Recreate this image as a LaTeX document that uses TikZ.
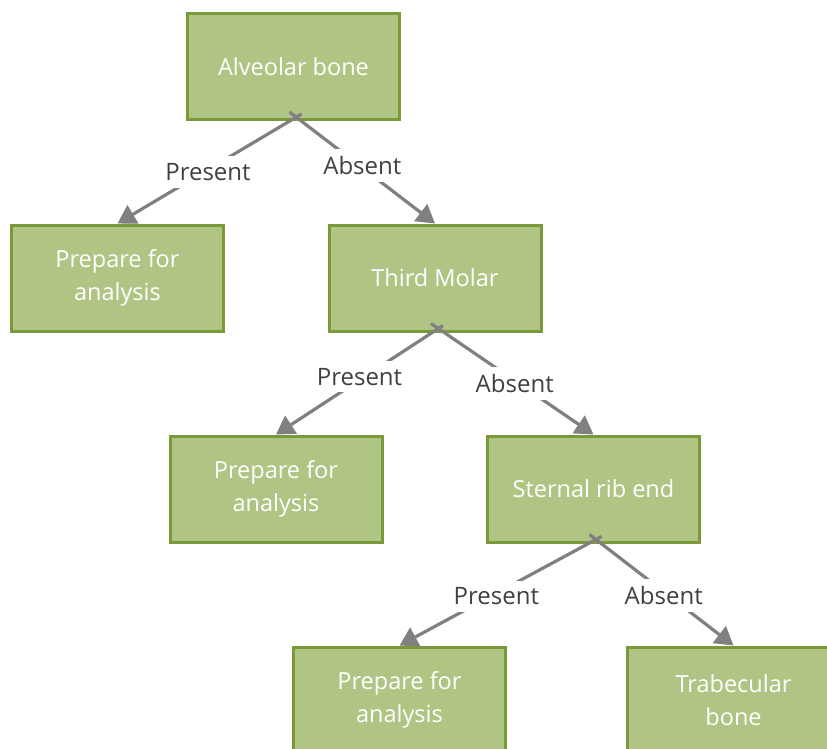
\documentclass[tikz,border=0pt]{standalone}
\usepackage{fontspec}
\setmainfont{Open Sans}
\usetikzlibrary{arrows.meta}
\definecolor{boxfill}{RGB}{176,197,132}
\definecolor{boxline}{RGB}{122,154,58}
\definecolor{edgegray}{RGB}{128,128,128}
\definecolor{lblgray}{RGB}{64,64,64}
\tikzset{
  box/.style={draw=boxline, line width=3pt, fill=boxfill, minimum width=212pt, minimum height=106pt,
    text=white, align=center, font=\fontsize{23.5}{33}\selectfont, inner sep=0pt},
  arr/.style={draw=edgegray, line width=3.2pt, -{Triangle[length=18pt,width=21pt]}},
  lbl/.style={fill=white, text=lblgray, font=\fontsize{24}{28}\selectfont, inner xsep=4pt, inner ysep=7pt}
}
\begin{document}
\begin{tikzpicture}[x=1pt,y=-1pt]
\useasboundingbox (0,0) rectangle (827,748);
\clip (0,0) rectangle (827,748);
\fill[white] (0,0) rectangle (827,748);
\node[box] (a) at (293.5,66.5) {Alveolar bone};
\node[box] (p1) at (117.5,278) {Prepare for\\analysis};
\node[box] (b) at (435,278) {Third Molar};
\node[box] (p2) at (276,489) {Prepare for\\analysis};
\node[box] (c) at (593.5,489) {Sternal rib end};
\node[box] (p3) at (399.5,700) {Prepare for\\analysis};
\node[box] (d) at (733.5,700) {Trabecular\\bone};
\draw[arr] ([xshift=8pt,yshift=7pt]a.south) -- node[lbl,pos=0.53,xshift=4pt]{Present} (p1.north);
\draw[arr] ([xshift=-4pt,yshift=9pt]a.south) -- node[lbl,pos=0.48,xshift=3pt]{Absent} (b.north);
\draw[arr] ([xshift=8pt,yshift=7pt]b.south) -- node[lbl,pos=0.47,xshift=-5pt]{Present} (p2.north);
\draw[arr] ([xshift=-4pt,yshift=9pt]b.south) -- node[lbl,pos=0.54,xshift=-4pt]{Absent} (c.north);
\draw[arr] ([xshift=8pt,yshift=7pt]c.south) -- node[lbl,pos=0.55,xshift=6pt]{Present} (p3.north);
\draw[arr] ([xshift=-4pt,yshift=9pt]c.south) -- node[lbl,pos=0.55,xshift=-5pt]{Absent} (d.north);
\end{tikzpicture}
\end{document}
